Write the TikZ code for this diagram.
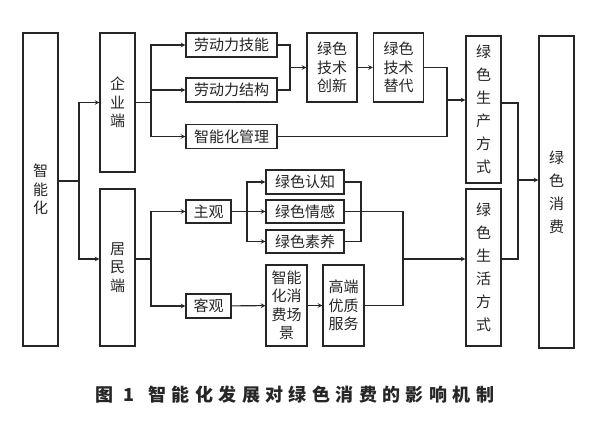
\documentclass[tikz,border=0pt]{standalone}
\usepackage{fontspec}
\newfontfamily\cjk{Noto Sans CJK SC}
\newfontfamily\capfont[LetterSpace=30]{Noto Sans CJK SC}
\usetikzlibrary{arrows}
\tikzset{
	box/.style={draw=black!85,line width=1.1pt,inner sep=0pt,align=center,text=black!85,
		font=\cjk\fontsize{15}{18.5}\selectfont},
	tallbox/.style={box,font=\cjk\fontsize{15}{23}\selectfont},
	link/.style={draw=black!85,line width=1.1pt}
}
\begin{document}
		\begin{tikzpicture}[x=1pt,y=-1pt]
			\useasboundingbox[fill=white] (0,0) rectangle (600,426);
			\node[box,minimum width=35pt,minimum height=313pt] (znh) at (40.5,189.5) {智\\能\\化};
			\node[box,minimum width=35pt,minimum height=139pt] (qy) at (117.5,102.5) {企\\业\\端};
			\node[box,minimum width=35pt,minimum height=157pt] (jm) at (117.5,267.5) {居\\民\\端};
			\node[box,minimum width=91pt,minimum height=24pt] (ldjn) at (231.5,45) {劳动力技能};
			\node[box,minimum width=91pt,minimum height=24pt] (ldjg) at (231.5,90) {劳动力结构};
			\node[box,minimum width=91pt,minimum height=24pt] (znhgl) at (231.5,136.5) {智能化管理};
			\node[box,minimum width=50pt,minimum height=69pt] (cx) at (332,67.5) {绿色\\技术\\创新};
			\node[box,minimum width=50pt,minimum height=69pt] (td) at (398.5,67.5) {绿色\\技术\\替代};
			\node[tallbox,minimum width=35pt,minimum height=147pt] (sc) at (483.5,109.5) {绿\\色\\生\\产\\方\\式};
			\node[tallbox,minimum width=35pt,minimum height=157pt] (sh) at (483.5,267.5) {绿\\色\\生\\活\\方\\式};
			\node[tallbox,minimum width=35pt,minimum height=312pt] (xf) at (556.5,192) {绿\\色\\消\\费};
			\node[box,minimum width=45pt,minimum height=23pt] (zg) at (208.5,211.5) {主观};
			\node[box,minimum width=45pt,minimum height=24pt] (kg) at (208.5,306) {客观};
			\node[box,minimum width=78pt,minimum height=24pt] (rz) at (305,182) {绿色认知};
			\node[box,minimum width=78pt,minimum height=23pt] (qg) at (305,211.5) {绿色情感};
			\node[box,minimum width=78pt,minimum height=23pt] (sy) at (305,241.5) {绿色素养};
			\node[box,minimum width=41pt,minimum height=81pt] (cj) at (286.5,305.5) {智能\\化消\\费场\\景};
			\node[box,minimum width=41pt,minimum height=81pt] (fw) at (343.5,305.5) {高端\\优质\\服务};
			\node[text=black!85,font=\capfont\bfseries\fontsize{18}{18}\selectfont] (cap) at (295,395) {图 1\hspace{14pt}智能化发展对绿色消费的影响机制};
			\coordinate (j1) at (79,181);
			\coordinate (j2) at (151,102.5);
			\coordinate (j3) at (290,67.5);
			\coordinate (j4) at (447,100);
			\coordinate (cT) at (518,103);
			\coordinate (j5) at (518,180);
			\coordinate (cB) at (518,259);
			\coordinate (j6) at (151,259);
			\coordinate (j7) at (247,211.5);
			\coordinate (j8) at (361,211.5);
			\coordinate (j9) at (403,259);
			\draw[link] (znh.east|-j1)--(j1);
			\draw[link,-stealth] (j1)|-(qy.west);
			\draw[link,-stealth] (j1)|-(jm.west|-j6);
			\draw[link] (qy.east)--(j2);
			\draw[link,-stealth] (j2)|-(ldjn.west);
			\draw[link,-stealth] (j2)|-(ldjg.west);
			\draw[link,-stealth] (j2)|-(znhgl.west);
			\draw[link] (ldjn.east)-|(j3)|-(ldjg.east);
			\draw[link,-stealth] (j3)--(cx.west);
			\draw[link,-stealth] (cx)--(td);
			\draw[link] (td.east)-|(j4)|-(znhgl.east);
			\draw[link,-stealth] (j4)--(sc.west|-j4);
			\draw[link] (sc.east|-cT)-|(j5)|-(sh.east|-cB);
			\draw[link,-stealth] (j5)--(xf.west|-j5);
			\draw[link] (jm.east|-j6)--(j6);
			\draw[link,-stealth] (j6)|-(zg.west);
			\draw[link,-stealth] (j6)|-(kg.west);
			\draw[link] (zg.east)--(j7);
			\draw[link,-stealth] (j7)|-(rz.west);
			\draw[link,-stealth] (j7)--(qg.west);
			\draw[link,-stealth] (j7)|-(sy.west);
			\draw[link] (rz.east)-|(j8)|-(sy.east);
			\draw[link] (qg.east)-|(j9)|-(fw.east);
			\draw[link,-stealth] (j9)--(sh.west|-j9);
			\draw[link,-stealth] (kg)--(cj);
			\draw[link,-stealth] (cj)--(fw);
		\end{tikzpicture}
\end{document}
